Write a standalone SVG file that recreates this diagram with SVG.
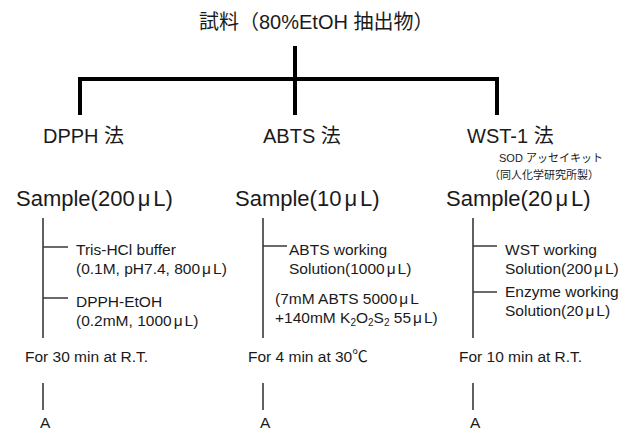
<svg xmlns="http://www.w3.org/2000/svg" width="621" height="430" viewBox="0 0 621 430">
<style>
text{font-family:"Liberation Sans","Noto Sans CJK JP",sans-serif;fill:#1a1a1a}
.t{font-size:20px}
.m{font-size:20px}
.s{font-size:22px}
.b{font-size:15.5px}
.n{font-size:11px}
.thick{stroke:#000;stroke-width:4;fill:none}
.thin{stroke:#3a3a3a;stroke-width:1.6;fill:none}
</style>
<rect width="621" height="430" fill="#fff"/>
<g id="connectors">
<path class="thick" d="M295 46V79M80 115V79H497V115M295 79V115"/>
<path class="thin" d="M43 218V338M43 247H68M43 298H68M43 383V410"/>
<path class="thin" d="M263 218V338M263 246H287M263 383V410"/>
<path class="thin" d="M473 218V338M473 246H497M473 292H497M473 383V410"/>
</g>
<g id="title"><text class="t" x="199" y="29">試料（80%EtOH 抽出物）</text></g>
<g id="dpph"><text class="m" x="43" y="143">DPPH 法</text></g>
<g id="abts"><text class="m" x="263" y="143">ABTS 法</text></g>
<g id="wst1"><text class="m" x="467" y="143">WST-1 法</text></g>
<g id="sod-kit"><text class="n" x="499" y="162">SOD アッセイキット</text><text class="n" x="489" y="179">（同人化学研究所製）</text></g>
<g id="sample-dpph"><text class="s" x="16" y="206">Sample(200<tspan dx="3">μ</tspan><tspan dx="3">L)</tspan></text></g>
<g id="sample-abts"><text class="s" x="235" y="206">Sample(10<tspan dx="3">μ</tspan><tspan dx="3">L)</tspan></text></g>
<g id="sample-wst"><text class="s" x="446" y="206">Sample(20<tspan dx="3">μ</tspan><tspan dx="3">L)</tspan></text></g>
<g id="tris"><text class="b" x="76" y="255">Tris-HCl buffer</text><text class="b" x="76" y="274">(0.1M, pH7.4, 800<tspan dx="2">μ</tspan><tspan dx="2">L)</tspan></text></g>
<g id="dpph-etoh"><text class="b" x="76" y="307">DPPH-EtOH</text><text class="b" x="76" y="326">(0.2mM, 1000<tspan dx="2">μ</tspan><tspan dx="2">L)</tspan></text></g>
<g id="abts-working"><text class="b" x="289" y="255">ABTS working</text><text class="b" x="289" y="274">Solution(1000<tspan dx="2">μ</tspan><tspan dx="2">L)</tspan></text></g>
<g id="abts-prep"><text class="b" x="275" y="304">(7mM ABTS 5000<tspan dx="2">μ</tspan><tspan dx="2">L</tspan></text><text class="b" x="275" y="323">+140mM K<tspan dy="3" font-size="10">2</tspan><tspan dy="-3">O</tspan><tspan dy="3" font-size="10">2</tspan><tspan dy="-3">S</tspan><tspan dy="3" font-size="10">2</tspan><tspan dy="-3"> 55</tspan><tspan dx="2">μ</tspan><tspan dx="2">L)</tspan></text></g>
<g id="wst-working"><text class="b" x="505" y="255">WST working</text><text class="b" x="505" y="274">Solution(200<tspan dx="2">μ</tspan><tspan dx="2">L)</tspan></text></g>
<g id="enzyme-working"><text class="b" x="505" y="297">Enzyme working</text><text class="b" x="505" y="316">Solution(20<tspan dx="2">μ</tspan><tspan dx="2">L)</tspan></text></g>
<g id="inc-dpph"><text class="b" x="25" y="362">For 30 min at R.T.</text></g>
<g id="inc-abts"><text class="b" x="248" y="362">For 4 min at 30℃</text></g>
<g id="inc-wst"><text class="b" x="459" y="362">For 10 min at R.T.</text></g>
<g id="a-dpph"><text class="b" x="40" y="428">A</text></g>
<g id="a-abts"><text class="b" x="260" y="428">A</text></g>
<g id="a-wst"><text class="b" x="470" y="428">A</text></g>
</svg>
